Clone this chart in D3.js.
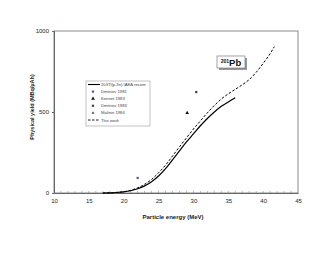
<!DOCTYPE html>
<html>
<head>
<meta charset="utf-8">
<script src="https://cdn.jsdelivr.net/npm/d3@7"></script>
<style>
  body { margin: 0; background: #fff; }
  svg { font-family: 'Liberation Sans', Arial, sans-serif; }
</style>
</head>
<body>
<script>
const width = 330;
const height = 255;

// IAEA recommended curve (solid)
const iaeaEnergy = [17, 18, 19, 20, 21, 22, 23, 24, 25, 26, 27, 28, 29, 30, 31, 32, 33, 34, 35, 36];
const iaeaYield = [0, 1, 3, 7, 14, 26, 44, 70, 105, 150, 205, 260, 315, 365, 415, 460, 500, 535, 562, 588];

// this work (dashed)
const workEnergy = [17, 18, 19, 20, 21, 22, 23, 24, 25, 26, 27, 28, 29, 30, 31, 32, 33, 34, 35, 36, 37, 38, 39, 40, 41, 41.6];
const workYield = [0, 1, 3, 8, 17, 32, 54, 84, 125, 172, 228, 285, 340, 395, 445, 495, 540, 580, 612, 640, 668, 700, 745, 800, 860, 903];

// measured points
const dmitriev81 = [[22, 93]];
const kennet83 = [[29.1, 494]];
const dmitriev83 = [[30.4, 623]];
const malinin84 = [];

const xTicks = [10, 15, 20, 25, 30, 35, 40, 45];
const yTicks = [0, 500, 1000];

const margin = { left: 54, right: 32, top: 31, bottom: 62 };

const x = d3.scaleLinear().domain([10, 45]).range([margin.left, width - margin.right]);
const y = d3.scaleLinear().domain([0, 1000]).range([height - margin.bottom, margin.top]);

const svg = d3.select('body').append('svg')
  .attr('width', width)
  .attr('height', height);

// plot frame
svg.append('rect')
  .attr('x', x(10))
  .attr('y', y(1000))
  .attr('width', x(45) - x(10))
  .attr('height', y(0) - y(1000))
  .attr('fill', '#fff')
  .attr('stroke', '#8a8a8a')
  .attr('stroke-width', 1);

// x axis
const xAxis = svg.append('g')
  .attr('transform', `translate(0,${y(0)})`)
  .call(d3.axisBottom(x).tickValues(xTicks).tickSize(0).tickPadding(6));
xAxis.select('.domain').attr('stroke', '#666');
xAxis.selectAll('text').attr('font-size', 6).attr('fill', '#222');

// minor ticks every 1 MeV
svg.append('g')
  .selectAll('line')
  .data(d3.range(11, 45))
  .enter()
  .append('line')
  .attr('x1', (d) => x(d))
  .attr('x2', (d) => x(d))
  .attr('y1', y(0))
  .attr('y2', y(0) - 2)
  .attr('stroke', '#888')
  .attr('stroke-width', 0.6);

// y axis
const yAxis = svg.append('g')
  .attr('transform', `translate(${x(10)},0)`)
  .call(d3.axisLeft(y).tickValues(yTicks).tickFormat(d3.format('d')).tickSize(2).tickPadding(3));
yAxis.select('.domain').attr('stroke', '#666');
yAxis.selectAll('line').attr('stroke', '#666');
yAxis.selectAll('text').attr('font-size', 6).attr('fill', '#222');

// axis titles
svg.append('text')
  .attr('x', 173)
  .attr('y', 219)
  .attr('text-anchor', 'middle')
  .attr('font-size', 6)
  .attr('font-weight', 'bold')
  .attr('fill', '#222')
  .text('Particle energy (MeV)');

svg.append('text')
  .attr('transform', 'translate(34,107) rotate(-90)')
  .attr('text-anchor', 'middle')
  .attr('font-size', 5.5)
  .attr('font-weight', 'bold')
  .attr('fill', '#222')
  .text('Physical yield (MBq/µAh)');

// curves
const line = d3.line()
  .x((d) => x(d[0]))
  .y((d) => y(d[1]))
  .curve(d3.curveMonotoneX);

svg.append('path')
  .datum(iaeaEnergy.map((e, i) => [e, iaeaYield[i]]))
  .attr('d', line)
  .attr('fill', 'none')
  .attr('stroke', '#000')
  .attr('stroke-width', 1.2);

svg.append('path')
  .datum(workEnergy.map((e, i) => [e, workYield[i]]))
  .attr('d', line)
  .attr('fill', 'none')
  .attr('stroke', '#000')
  .attr('stroke-width', 1)
  .attr('stroke-dasharray', '2.5,1.8');

// markers
const sq = d3.symbol().type(d3.symbolSquare).size(5);
const tri = d3.symbol().type(d3.symbolTriangle).size(6);

function drawPoints(data, sym, color) {
  svg.append('g')
    .selectAll('path')
    .data(data)
    .enter()
    .append('path')
    .attr('d', sym)
    .attr('transform', (d) => `translate(${x(d[0])},${y(d[1])})`)
    .attr('fill', color);
}
drawPoints(dmitriev81, sq, '#5a5a9c');
drawPoints(kennet83, tri, '#111');
drawPoints(dmitriev83, sq, '#444');
drawPoints(malinin84, sq, '#777');

// legend
const legendItems = [
  { label: '203Tl(p,3n) IAEA recom', kind: 'solid' },
  { label: 'Dmitriev 1981', kind: 'pt', sym: sq, color: '#5a5a9c' },
  { label: 'Kennet 1983', kind: 'pt', sym: tri, color: '#111' },
  { label: 'Dmitriev 1983', kind: 'pt', sym: sq, color: '#444' },
  { label: 'Malinin 1984', kind: 'pt', sym: sq, color: '#777' },
  { label: 'This work', kind: 'dash' }
];

const legend = svg.append('g').attr('transform', 'translate(86,81)');
legend.append('rect')
  .attr('width', 64)
  .attr('height', 45)
  .attr('fill', '#fff')
  .attr('stroke', '#999')
  .attr('stroke-width', 0.6);

const rows = legend.selectAll('g.row')
  .data(legendItems)
  .enter()
  .append('g')
  .attr('class', 'row')
  .attr('transform', (d, i) => `translate(0,${3.5 + i * 7.1})`);

rows.filter((d) => d.kind !== 'pt')
  .append('line')
  .attr('x1', 2)
  .attr('x2', 14)
  .attr('y1', 0)
  .attr('y2', 0)
  .attr('stroke', '#000')
  .attr('stroke-width', (d) => (d.kind === 'solid' ? 1.1 : 0.9))
  .attr('stroke-dasharray', (d) => (d.kind === 'dash' ? '2.5,1.5' : null));

rows.filter((d) => d.kind === 'pt')
  .append('path')
  .attr('d', (d) => d.sym())
  .attr('transform', 'translate(7,0)')
  .attr('fill', (d) => d.color);

rows.append('text')
  .attr('x', 15)
  .attr('y', 1.5)
  .attr('font-size', 4.2)
  .attr('fill', '#444')
  .text((d) => d.label);

// isotope label
const iso = svg.append('g').attr('transform', 'translate(217,56)');
iso.append('rect')
  .attr('x', 2)
  .attr('y', 2)
  .attr('width', 28)
  .attr('height', 12)
  .attr('fill', '#999');
iso.append('rect')
  .attr('width', 28)
  .attr('height', 12)
  .attr('fill', '#fff')
  .attr('stroke', '#666')
  .attr('stroke-width', 0.6);
const isoText = iso.append('text')
  .attr('x', 14)
  .attr('y', 9.5)
  .attr('text-anchor', 'middle')
  .attr('font-weight', 'bold')
  .attr('fill', '#111');
isoText.append('tspan').attr('font-size', 5).attr('dy', -3).text('201');
isoText.append('tspan').attr('font-size', 9.5).attr('dy', 3).text('Pb');
</script>
</body>
</html>
